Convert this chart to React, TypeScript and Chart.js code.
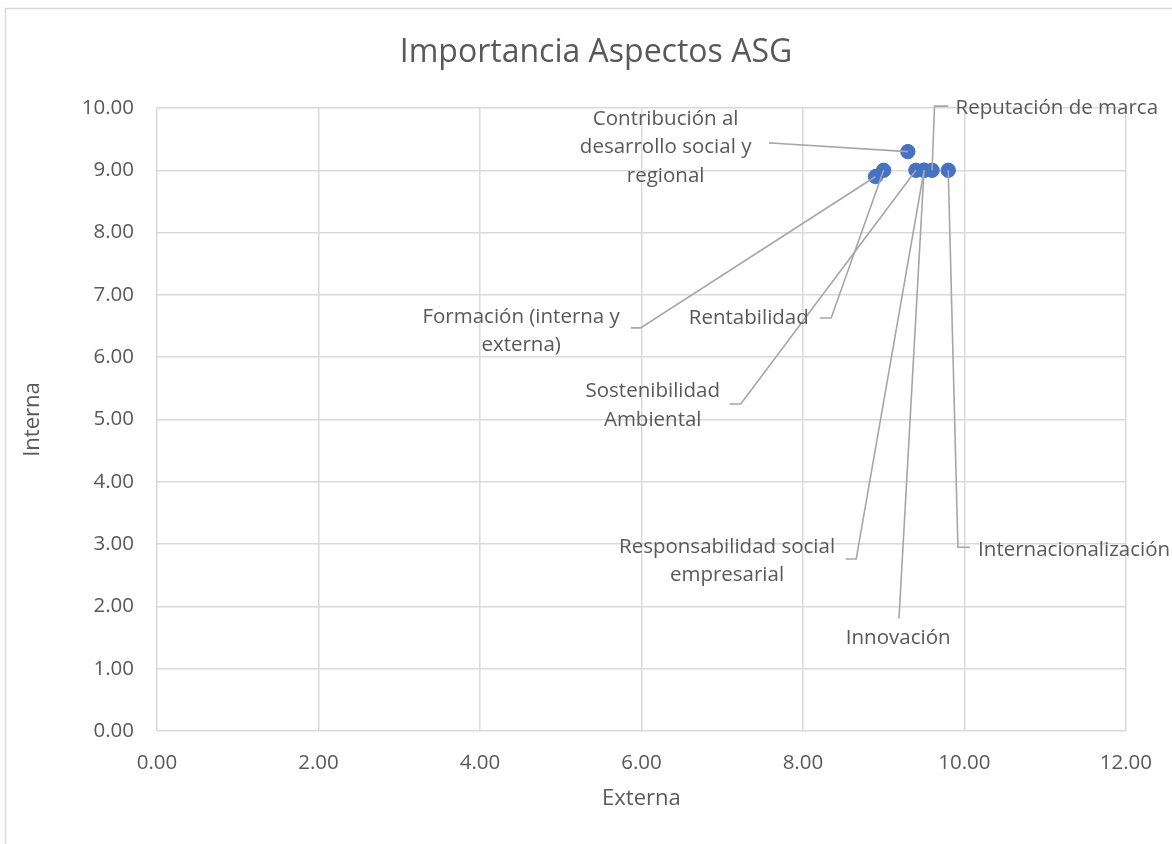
import { useEffect, useRef } from "react";
import { Chart, registerables } from "chart.js";

Chart.register(...registerables);

// ---- data ----
const aspectNames = [
  "Contribución al desarrollo social y regional",
  "Formación (interna y externa)",
  "Rentabilidad",
  "Sostenibilidad Ambiental",
  "Responsabilidad social empresarial",
  "Innovación",
  "Reputación de marca",
  "Internacionalización",
];
const externa = [9.3, 8.9, 9.0, 9.4, 9.5, 9.5, 9.6, 9.8];
const interna = [9.3, 8.9, 9.0, 9.0, 9.0, 9.0, 9.0, 9.0];

const xTickMin = 0;
const xTickMax = 12;
const xTickStep = 2;
const yTickMin = 0;
const yTickMax = 10;
const yTickStep = 1;

const chartTitle = "Importancia Aspectos ASG";
const xTitle = "Externa";
const yTitle = "Interna";

// ---- data-label layout (in data units) ----
const labelLines = [
  ["Contribución al", "desarrollo social y", "regional"],
  ["Formación (interna y", "externa)"],
  ["Rentabilidad"],
  ["Sostenibilidad", "Ambiental"],
  ["Responsabilidad social", "empresarial"],
  ["Innovación"],
  ["Reputación de marca"],
  ["Internacionalización"],
];
const labelX = [6.3, 4.51, 7.33, 6.14, 7.06, 9.18, 9.89, 10.17];
const labelY = [9.37, 6.42, 6.63, 5.22, 2.73, 1.49, 10.0, 2.91];
const labelAlign = ["center", "center", "center", "center", "center", "center", "left", "left"];
const leaderStartX = [7.58, 5.87, 8.21, 7.09, 8.53, 9.19, 9.8, 10.07];
const leaderStartY = [9.44, 6.47, 6.63, 5.25, 2.76, 1.81, 10.03, 2.95];
const leaderElbowX = [7.7, 5.99, 8.35, 7.23, 8.66, null, 9.63, 9.92];
const leaderElbowY = [9.43, 6.47, 6.63, 5.25, 2.76, null, 10.03, 2.95];

const FONT = "'Open Sans', sans-serif";
const TEXT = "#595959";
const GRID = "#d9d9d9";
const POINT = "#4472C4";
const LEADER = "#a6a6a6";

const decorPlugin = {
  id: "decor",
  beforeDraw(chart: any) {
    const ctx = chart.ctx;
    ctx.save();
    ctx.fillStyle = "#ffffff";
    ctx.fillRect(0, 0, chart.width, chart.height);
    ctx.strokeStyle = GRID;
    ctx.lineWidth = 1.5;
    ctx.beginPath();
    ctx.moveTo(5.5, chart.height);
    ctx.lineTo(5.5, 8.5);
    ctx.lineTo(chart.width, 8.5);
    ctx.stroke();
    ctx.restore();
  },
  afterDraw(chart: any) {
    const ctx = chart.ctx;
    const ca = chart.chartArea;
    ctx.save();
    ctx.fillStyle = TEXT;
    // title
    ctx.font = `32px ${FONT}`;
    ctx.textAlign = "center";
    ctx.textBaseline = "alphabetic";
    ctx.fillText(chartTitle, 596, 62);
    // axis titles
    ctx.font = `22px ${FONT}`;
    ctx.textBaseline = "middle";
    ctx.fillText(xTitle, (ca.left + ca.right) / 2, 799);
    ctx.save();
    ctx.translate(33, (ca.top + ca.bottom) / 2);
    ctx.rotate(-Math.PI / 2);
    ctx.fillText(yTitle, 0, 0);
    ctx.restore();
    ctx.restore();
  },
  afterDatasetsDraw(chart: any) {
    const ctx = chart.ctx;
    const xs = chart.scales.x;
    const ys = chart.scales.y;
    ctx.save();
    // leader lines
    ctx.strokeStyle = LEADER;
    ctx.lineWidth = 1.6;
    for (let i = 0; i < externa.length; i++) {
      ctx.beginPath();
      ctx.moveTo(xs.getPixelForValue(leaderStartX[i]), ys.getPixelForValue(leaderStartY[i]));
      const ex = leaderElbowX[i];
      const ey = leaderElbowY[i];
      if (ex !== null && ey !== null) {
        ctx.lineTo(xs.getPixelForValue(ex), ys.getPixelForValue(ey));
      }
      ctx.lineTo(xs.getPixelForValue(externa[i]), ys.getPixelForValue(interna[i]));
      ctx.stroke();
    }
    // label texts
    ctx.fillStyle = TEXT;
    ctx.font = `20.5px ${FONT}`;
    ctx.textBaseline = "middle";
    const lh = 28.5;
    for (let i = 0; i < labelLines.length; i++) {
      const lines = labelLines[i];
      const cx = xs.getPixelForValue(labelX[i]);
      const cy = ys.getPixelForValue(labelY[i]);
      ctx.textAlign = labelAlign[i] as CanvasTextAlign;
      for (let j = 0; j < lines.length; j++) {
        ctx.fillText(lines[j], cx, cy + (j - (lines.length - 1) / 2) * lh);
      }
    }
    ctx.restore();
  },
};

export default function App() {
  const ref = useRef<HTMLCanvasElement | null>(null);
  useEffect(() => {
    if (!ref.current) return;
    const chart = new Chart(ref.current, {
      type: "scatter",
      data: {
        datasets: [
          {
            label: "Aspectos",
            data: externa.map((x, i) => ({ x, y: interna[i] })),
            backgroundColor: POINT,
            borderColor: POINT,
            borderWidth: 1,
            pointRadius: 7.2,
            pointHoverRadius: 7.2,
          },
        ],
      },
      options: {
        animation: false,
        responsive: false,
        devicePixelRatio: 1,
        layout: { padding: { top: 108, right: 44, left: 0, bottom: 0 } },
        plugins: {
          legend: { display: false },
          tooltip: { enabled: false },
          title: { display: false },
        },
        scales: {
          x: {
            type: "linear",
            min: xTickMin,
            max: xTickMax,
            grid: { color: GRID, drawTicks: false, lineWidth: 1.5 },
            border: { display: false },
            ticks: {
              stepSize: xTickStep,
              padding: 20,
              color: TEXT,
              font: { family: FONT, size: 20.5 },
              callback: (v: any) => Number(v).toFixed(2),
            },
            afterFit: (s: any) => {
              s.height = 113;
            },
          },
          y: {
            type: "linear",
            min: yTickMin,
            max: yTickMax,
            grid: { color: GRID, drawTicks: false, lineWidth: 1.5 },
            border: { display: false },
            ticks: {
              stepSize: yTickStep,
              padding: 23,
              color: TEXT,
              font: { family: FONT, size: 20.5 },
              callback: (v: any) => Number(v).toFixed(2),
            },
            afterFit: (s: any) => {
              s.width = 157;
            },
          },
        },
      },
      plugins: [decorPlugin],
    });
    return () => chart.destroy();
  }, []);
  return (
    <div style={{ position: "fixed", left: 0, top: 0, width: 1172, height: 844, overflow: "hidden" }}>
      <canvas ref={ref} width={1172} height={844} style={{ width: 1172, height: 844, display: "block" }} />
    </div>
  );
}
